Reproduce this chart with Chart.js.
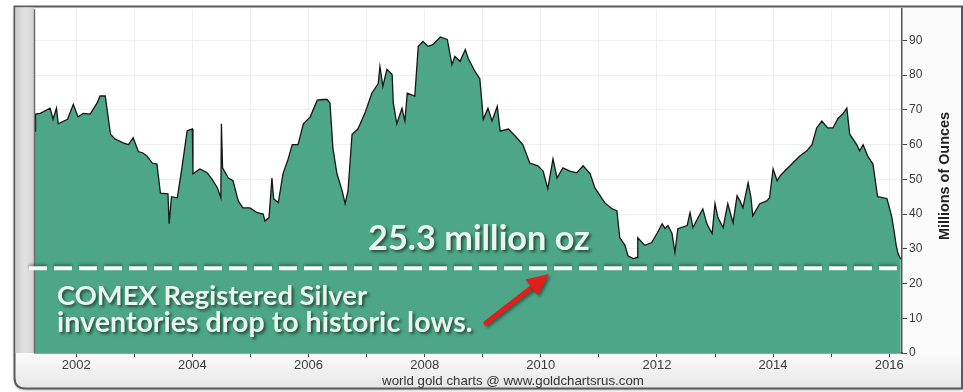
<!DOCTYPE html>
<html>
<head>
<meta charset="utf-8">
<script src="https://cdn.jsdelivr.net/npm/chart.js@4.4.1/dist/chart.umd.min.js"></script>
<style>
  html, body { margin: 0; padding: 0; background: #fff; }
  canvas { display: block; }
</style>
</head>
<body>
<canvas id="silverChart" width="963" height="392"></canvas>
<script>
// COMEX registered silver, millions of ounces
const weekYears = [
  2001.29, 2001.30, 2001.38, 2001.55, 2001.60, 2001.66, 2001.69, 2001.85, 2001.95, 2002.03,
  2002.12, 2002.24, 2002.36, 2002.41, 2002.50, 2002.59, 2002.67, 2002.81, 2002.90, 2002.98,
  2003.07, 2003.15, 2003.22, 2003.31, 2003.39, 2003.45, 2003.58, 2003.60, 2003.64, 2003.74,
  2003.82, 2003.91, 2004.00, 2004.01, 2004.13, 2004.25, 2004.34, 2004.43, 2004.49, 2004.50,
  2004.52, 2004.62, 2004.70, 2004.79, 2004.87, 2004.99, 2005.12, 2005.22, 2005.25, 2005.32,
  2005.37, 2005.40, 2005.48, 2005.56, 2005.65, 2005.72, 2005.82, 2005.91, 2006.03, 2006.15,
  2006.25, 2006.32, 2006.37, 2006.42, 2006.49, 2006.58, 2006.63, 2006.68, 2006.75, 2006.85,
  2006.97, 2007.09, 2007.20, 2007.23, 2007.28, 2007.35, 2007.44, 2007.46, 2007.52, 2007.61,
  2007.66, 2007.70, 2007.83, 2007.89, 2007.97, 2008.06, 2008.14, 2008.27, 2008.39, 2008.47,
  2008.52, 2008.61, 2008.70, 2008.75, 2008.87, 2008.95, 2009.01, 2009.09, 2009.16, 2009.25,
  2009.30, 2009.44, 2009.56, 2009.69, 2009.81, 2009.95, 2010.04, 2010.12, 2010.21, 2010.28,
  2010.38, 2010.50, 2010.62, 2010.73, 2010.85, 2010.93, 2011.10, 2011.23, 2011.31, 2011.36,
  2011.45, 2011.50, 2011.59, 2011.66, 2011.67, 2011.79, 2011.91, 2012.00, 2012.09, 2012.14,
  2012.19, 2012.26, 2012.31, 2012.36, 2012.52, 2012.57, 2012.62, 2012.71, 2012.79, 2012.86,
  2012.95, 2013.00, 2013.05, 2013.14, 2013.22, 2013.31, 2013.38, 2013.43, 2013.48, 2013.57,
  2013.62, 2013.65, 2013.77, 2013.89, 2013.94, 2014.00, 2014.07, 2014.12, 2014.20, 2014.34,
  2014.46, 2014.58, 2014.67, 2014.75, 2014.84, 2014.94, 2015.03, 2015.12, 2015.20, 2015.27,
  2015.32, 2015.44, 2015.49, 2015.55, 2015.63, 2015.72, 2015.80, 2015.96, 2016.04, 2016.08,
  2016.12, 2016.15, 2016.20
];
const registeredOz = [
  63.9, 68.8, 69.0, 70.5, 67.3, 70.5, 66.0, 67.3, 71.6, 68.0,
  69.0, 68.8, 72.0, 74.0, 74.0, 63.0, 61.6, 60.5, 60.0, 62.0,
  58.0, 57.6, 56.7, 54.7, 54.4, 46.0, 45.8, 37.2, 45.0, 44.7,
  53.3, 64.0, 64.5, 51.6, 53.0, 52.0, 50.0, 47.6, 44.7, 66.0,
  53.3, 50.4, 49.6, 43.8, 41.8, 41.8, 40.4, 40.0, 38.0, 39.0,
  50.4, 44.4, 43.3, 51.6, 55.9, 60.0, 60.0, 66.0, 68.0, 72.8,
  73.0, 73.0, 72.0, 59.0, 51.6, 46.7, 43.0, 46.7, 63.0, 64.5,
  69.0, 74.8, 77.6, 82.5, 76.8, 81.7, 80.2, 72.0, 66.0, 70.5,
  66.8, 74.8, 74.0, 88.3, 89.7, 88.3, 88.8, 91.0, 90.3, 83.0,
  85.4, 84.0, 87.4, 84.8, 81.0, 79.0, 67.3, 70.5, 66.8, 71.0,
  63.9, 64.5, 62.5, 60.0, 54.7, 53.9, 52.4, 47.3, 55.9, 50.4,
  53.3, 52.4, 51.9, 53.9, 51.6, 47.6, 43.3, 41.5, 41.0, 33.2,
  31.0, 28.0, 27.2, 27.5, 33.2, 31.0, 31.8, 34.4, 37.2, 35.8,
  36.7, 34.4, 29.0, 35.8, 36.7, 40.4, 36.1, 39.0, 41.5, 37.2,
  34.4, 43.0, 39.0, 36.1, 43.0, 37.5, 45.3, 43.8, 41.8, 49.0,
  44.7, 39.5, 43.0, 43.8, 44.7, 53.0, 49.6, 51.0, 52.4, 54.7,
  56.7, 58.2, 60.0, 64.8, 66.8, 64.8, 64.8, 67.6, 68.8, 70.5,
  63.0, 60.0, 58.2, 60.0, 56.7, 54.4, 45.0, 44.5, 39.5, 35.5,
  31.0, 28.7, 27.0
];
const yearTicks = [2002, 2003, 2004, 2005, 2006, 2007, 2008, 2009, 2010, 2011, 2012, 2013, 2014, 2015, 2016];
const ounceTicks = [0, 10, 20, 30, 40, 50, 60, 70, 80, 90];
const lowLevel = 24.4;

const FILL = '#4ca687';
const annoFont = 'Lato, "Open Sans", sans-serif';

function fitFont(ctx, text, weight, targetWidth, family) {
  let size = 20;
  ctx.font = `${weight} ${size}px ${family}`;
  size = size * targetWidth / ctx.measureText(text).width;
  ctx.font = `${weight} ${size.toFixed(1)}px ${family}`;
}

const framePlugin = {
  id: 'frame',
  beforeDraw(chart) {
    const ctx = chart.ctx;
    const a = chart.chartArea;
    ctx.save();
    ctx.fillStyle = '#fff';
    ctx.fillRect(0, 0, chart.width, chart.height);

    // frame body
    const L = 14.5, T = 6.5, R = 962, B = 388.5, r = 11;
    ctx.beginPath();
    ctx.moveTo(L, T);
    ctx.lineTo(R, T);
    ctx.lineTo(R, B);
    ctx.lineTo(L + r, B);
    ctx.quadraticCurveTo(L, B, L, B - r);
    ctx.closePath();
    const g = ctx.createLinearGradient(0, a.bottom, 0, B);
    g.addColorStop(0, '#fbfbfb');
    g.addColorStop(1, '#e6e6e6');
    ctx.fillStyle = g;
    ctx.shadowColor = 'rgba(0,0,0,0.25)';
    ctx.shadowOffsetY = 2;
    ctx.shadowBlur = 3;
    ctx.fill();
    ctx.shadowColor = 'transparent';
    ctx.strokeStyle = '#5a5a5a';
    ctx.lineWidth = 2;
    ctx.stroke();

    // grey strip on the left
    const sg = ctx.createLinearGradient(16, 0, 34, 0);
    sg.addColorStop(0, '#cfcfcf');
    sg.addColorStop(0.5, '#e2e2e2');
    sg.addColorStop(1, '#d2d2d2');
    ctx.fillStyle = sg;
    ctx.fillRect(15.5, 7.5, 18.5, a.bottom - 7.5);

    // plot background
    ctx.fillStyle = '#fff';
    ctx.fillRect(a.left, a.top, a.right - a.left, a.bottom - a.top);
    ctx.restore();
  },
  afterDraw(chart) {
    const ctx = chart.ctx;
    const a = chart.chartArea;
    const y = chart.scales.y;
    ctx.save();

    // left edge of plot
    ctx.strokeStyle = '#6e6e6e';
    ctx.lineWidth = 1.5;
    ctx.beginPath();
    ctx.moveTo(a.left - 0.5, a.top);
    ctx.lineTo(a.left - 0.5, a.bottom);
    ctx.stroke();

    // dashed low line
    const ly = y.getPixelForValue(lowLevel);
    ctx.shadowColor = 'rgba(0,0,0,0.35)';
    ctx.shadowOffsetY = -2;
    ctx.shadowBlur = 3;
    ctx.strokeStyle = '#f4fbf7';
    ctx.lineWidth = 4;
    ctx.setLineDash([18, 7]);
    ctx.beginPath();
    ctx.moveTo(29, ly);
    ctx.lineTo(a.right, ly);
    ctx.stroke();
    ctx.setLineDash([]);

    // annotation texts
    ctx.shadowColor = 'rgba(0,0,0,0.55)';
    ctx.shadowOffsetX = 2;
    ctx.shadowOffsetY = 2;
    ctx.shadowBlur = 3;
    ctx.fillStyle = '#e9f6ef';
    ctx.textBaseline = 'alphabetic';
    ctx.textAlign = 'left';
    fitFont(ctx, '25.3 million oz', 'bold', 222, annoFont);
    ctx.fillText('25.3 million oz', 368, 250);
    fitFont(ctx, 'COMEX Registered Silver', 'bold', 310, annoFont);
    ctx.fillText('COMEX Registered Silver', 57, 305);
    fitFont(ctx, 'inventories drop to historic lows.', 'bold', 415, annoFont);
    ctx.fillText('inventories drop to historic lows.', 57, 332);

    // red arrow
    const x0 = 486, y0 = 323, x1 = 549, y1 = 274;
    const ang = Math.atan2(y1 - y0, x1 - x0);
    const headLen = 22, headW = 10;
    const bx = x1 - headLen * Math.cos(ang), by = y1 - headLen * Math.sin(ang);
    ctx.shadowColor = 'rgba(0,0,0,0.4)';
    ctx.shadowOffsetX = 2;
    ctx.shadowOffsetY = 2;
    ctx.strokeStyle = '#e0201c';
    ctx.fillStyle = '#e0201c';
    ctx.lineWidth = 5;
    ctx.lineCap = 'round';
    ctx.beginPath();
    ctx.moveTo(x0, y0);
    ctx.lineTo(bx + 3 * Math.cos(ang), by + 3 * Math.sin(ang));
    ctx.stroke();
    ctx.beginPath();
    ctx.moveTo(x1, y1);
    ctx.lineTo(bx + headW * Math.sin(ang), by - headW * Math.cos(ang));
    ctx.lineTo(bx - headW * Math.sin(ang), by + headW * Math.cos(ang));
    ctx.closePath();
    ctx.fill();

    // axis title and credit line
    ctx.shadowColor = 'transparent';
    ctx.fillStyle = '#222';
    ctx.textAlign = 'center';
    ctx.textBaseline = 'middle';
    ctx.save();
    ctx.translate(945, 176);
    ctx.rotate(-Math.PI / 2);
    fitFont(ctx, 'Millions of Ounces', 'bold', 128, '"Liberation Sans", Arial, sans-serif');
    ctx.fillText('Millions of Ounces', 0, 0);
    ctx.restore();
    ctx.fillStyle = '#333';
    ctx.font = '11px "Liberation Sans", Arial, sans-serif';
    fitFont(ctx, 'world gold charts @ www.goldchartsrus.com', 'normal', 262, '"Liberation Sans", Arial, sans-serif');
    ctx.fillText('world gold charts @ www.goldchartsrus.com', 513, 381);
    ctx.restore();
  }
};

const ctx = document.getElementById('silverChart').getContext('2d');
new Chart(ctx, {
  type: 'line',
  data: {
    datasets: [{
      data: weekYears.map((yr, i) => ({ x: yr, y: registeredOz[i] })),
      fill: 'origin',
      backgroundColor: FILL,
      borderColor: '#161616',
      borderWidth: 1.3,
      pointRadius: 0,
      tension: 0
    }]
  },
  options: {
    responsive: false,
    animation: false,
    devicePixelRatio: 1,
    layout: { padding: { left: 35, top: 7, right: 0, bottom: 0 } },
    plugins: {
      legend: { display: false },
      tooltip: { enabled: false }
    },
    scales: {
      x: {
        type: 'linear',
        position: 'bottom',
        min: 2001.29,
        max: 2016.22,
        afterBuildTicks: (axis) => { axis.ticks = yearTicks.map(v => ({ value: v })); },
        afterFit: (axis) => { axis.height = 39; },
        grid: { color: '#efefef', tickColor: '#444', tickLength: 4, lineWidth: 1 },
        border: { color: '#555', width: 1.5 },
        ticks: {
          autoSkip: false,
          maxRotation: 0,
          padding: 1,
          color: '#3a3a3a',
          font: { family: '"Liberation Sans", Arial, sans-serif', size: 13 },
          callback: (v) => (v % 2 === 0 ? String(v) : '')
        }
      },
      y: {
        position: 'right',
        min: 0,
        max: 99,
        afterBuildTicks: (axis) => { axis.ticks = ounceTicks.map(v => ({ value: v })); },
        afterFit: (axis) => { axis.width = 61; },
        grid: { color: '#efefef', tickColor: '#444', tickLength: 5, lineWidth: 1 },
        border: { color: '#555', width: 1.5 },
        ticks: {
          padding: 2,
          color: '#3a3a3a',
          font: { family: '"Liberation Sans", Arial, sans-serif', size: 12 }
        }
      }
    }
  },
  plugins: [framePlugin]
});
</script>
</body>
</html>
